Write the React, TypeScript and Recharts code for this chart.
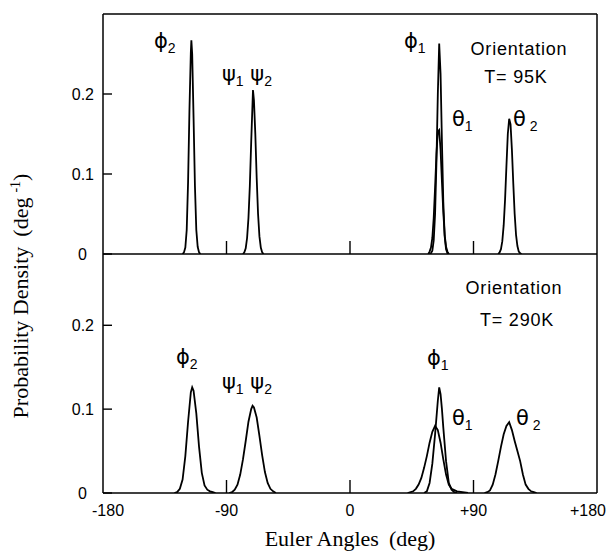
import React from 'react';
import { LineChart, Line, XAxis, YAxis, ReferenceLine } from 'recharts';

// ---- axis ticks ----
const xTicks = [-180, -90, 0, 90, 180];
const xTickText = ['-180', '-90', '0', '+90', '+180'];
const yTicks = [0, 0.1, 0.2];
const yTickText = ['0', '0.1', '0.2'];

// ---- T = 95 K ----
const t95Phi2X = [-122, -121, -120, -119, -118, -117, -116, -115.6, -115, -114, -113, -112, -111, -110, -109];
const t95Phi2Y = [0, 0.002, 0.008, 0.03, 0.09, 0.18, 0.252, 0.267, 0.25, 0.17, 0.085, 0.03, 0.009, 0.002, 0];

const t95PsiX = [-78, -77, -76, -75, -74, -73, -72, -71, -70.7, -70, -69, -68, -67, -66, -65, -64, -63];
const t95PsiY = [0, 0.002, 0.007, 0.02, 0.045, 0.085, 0.14, 0.19, 0.205, 0.192, 0.15, 0.095, 0.05, 0.022, 0.008, 0.002, 0];

const t95Phi1X = [58, 59, 60, 61, 62, 63, 64, 65, 66, 67, 68, 69, 70, 71, 72];
const t95Phi1Y = [0, 0.001, 0.004, 0.017, 0.05, 0.115, 0.2, 0.263, 0.225, 0.14, 0.065, 0.022, 0.006, 0.001, 0];

const t95Theta1X = [57, 58, 59, 60, 61, 62, 63, 64, 65, 66, 67, 68, 69, 70, 71, 72];
const t95Theta1Y = [0, 0.003, 0.008, 0.02, 0.045, 0.083, 0.125, 0.153, 0.155, 0.13, 0.09, 0.052, 0.024, 0.009, 0.003, 0];

const t95Theta2X = [108, 109, 110, 111, 112, 113, 114, 115, 116, 117, 118, 119, 120, 121, 122, 123, 124, 125];
const t95Theta2Y = [0, 0.002, 0.006, 0.016, 0.036, 0.068, 0.11, 0.15, 0.169, 0.162, 0.13, 0.088, 0.05, 0.024, 0.01, 0.003, 0.001, 0];

// ---- T = 290 K ----
const t290Phi2X = [-128, -126, -124, -122, -120, -118, -116, -115, -114, -112, -110, -108, -106, -104, -102, -100, -98];
const t290Phi2Y = [0, 0.001, 0.005, 0.016, 0.044, 0.085, 0.12, 0.126, 0.122, 0.095, 0.055, 0.024, 0.009, 0.004, 0.002, 0.001, 0];

const t290PsiX = [-88, -86, -84, -82, -80, -78, -76, -74, -72, -71, -70, -68, -66, -64, -62, -60, -58, -56, -54];
const t290PsiY = [0, 0.001, 0.004, 0.01, 0.022, 0.04, 0.062, 0.085, 0.1, 0.104, 0.102, 0.09, 0.068, 0.045, 0.025, 0.012, 0.005, 0.002, 0];

const t290Phi1X = [54, 56, 58, 60, 62, 64, 65, 66, 67, 68, 70, 72, 74, 76, 78];
const t290Phi1Y = [0, 0.002, 0.012, 0.035, 0.07, 0.11, 0.126, 0.118, 0.1, 0.078, 0.038, 0.012, 0.004, 0.001, 0];

const t290Theta1X = [42, 46, 48, 50, 52, 54, 56, 58, 60, 62, 64, 66, 68, 70, 72, 74, 78, 82, 86];
const t290Theta1Y = [0, 0.002, 0.005, 0.01, 0.018, 0.03, 0.044, 0.06, 0.073, 0.08, 0.075, 0.06, 0.04, 0.022, 0.01, 0.005, 0.002, 0.001, 0];

const t290Theta2X = [98, 100, 102, 104, 106, 108, 110, 112, 114, 116, 118, 120, 122, 124, 126, 128, 130, 132, 134, 136];
const t290Theta2Y = [0, 0.001, 0.003, 0.01, 0.022, 0.038, 0.055, 0.07, 0.08, 0.0845, 0.075, 0.062, 0.05, 0.038, 0.022, 0.01, 0.005, 0.002, 0.001, 0];

const pts = (xs: number[], ys: number[]) => xs.map((x, i) => ({ x, y: ys[i] }));

const topSeries = [
  pts(t95Phi2X, t95Phi2Y),
  pts(t95PsiX, t95PsiY),
  pts(t95Theta1X, t95Theta1Y),
  pts(t95Phi1X, t95Phi1Y),
  pts(t95Theta2X, t95Theta2Y),
];
const bottomSeries = [
  pts(t290Phi2X, t290Phi2Y),
  pts(t290PsiX, t290PsiY),
  pts(t290Theta1X, t290Theta1Y),
  pts(t290Phi1X, t290Phi1Y),
  pts(t290Theta2X, t290Theta2Y),
];

const SANS = '"Liberation Sans", Arial, Helvetica, sans-serif';
const SERIF = '"Liberation Serif", "Times New Roman", serif';
const GREEK = '"DejaVu Sans", "Liberation Sans", sans-serif';
const AX = { stroke: '#000', strokeWidth: 1.5 };

const YTick = (props: any) => {
  const { x, y, payload } = props;
  const v = payload.value;
  const i = yTicks.indexOf(v);
  return (
    <g>
      <line x1={x} y1={y} x2={x + 9} y2={y} stroke="#000" strokeWidth={1.4} />
      <text x={v === 0 ? x - 16 : x - 9} y={y} dy="0.36em" textAnchor="end" fontSize={16} fontFamily={SANS} fill="#000">
        {yTickText[i]}
      </text>
    </g>
  );
};

const makeXTick = (showLabels: boolean) => (props: any) => {
  const { x, y, payload } = props;
  const i = xTicks.indexOf(payload.value);
  const last = xTicks.length - 1;
  const edge = i === 0 || i === last;
  const tx = i === 0 ? x - 11 : i === last ? x + 9 : x;
  const anchor = i === 0 ? 'start' : i === last ? 'end' : 'middle';
  return (
    <g>
      {!edge && <line x1={x} y1={y} x2={x} y2={y - 13} stroke="#000" strokeWidth={1.4} />}
      {showLabels && (
        <text x={tx} y={y + 23} textAnchor={anchor} fontSize={16} fontFamily={SANS} fill="#000">
          {xTickText[i]}
        </text>
      )}
    </g>
  );
};

const Sub = ({ base, sub, gap = 0 }: { base: string; sub: string; gap?: number }) => (
  <>
    <tspan>{base}</tspan>
    <tspan dx={gap} dy={5} fontSize={14} fontFamily={SANS}>{sub}</tspan>
    <tspan dy={-5}> </tspan>
  </>
);

const Greek = ({ x, y, children }: any) => (
  <text x={x} y={y} fontSize={21} fontFamily={GREEK} fill="#000">{children}</text>
);

const Note = ({ x, y, children }: any) => (
  <text x={x} y={y} fontSize={18} letterSpacing={0.8} textAnchor="middle" fontFamily={SANS} fill="#000">{children}</text>
);

export default function App() {
  return (
    <div style={{ position: 'absolute', left: 0, top: 0, width: 608, height: 552, background: '#fff' }}>
      <div style={{ position: 'absolute', left: 0, top: 0 }}>
        <LineChart width={608} height={274} margin={{ top: 14, right: 11, bottom: 0, left: 0 }}>
          <XAxis dataKey="x" type="number" domain={[-180, 180]} ticks={xTicks} interval={0} allowDataOverflow
            height={20} tickSize={0} tickMargin={0} tickLine={false} axisLine={AX} tick={makeXTick(false)} />
          <YAxis type="number" domain={[0, 0.3]} ticks={yTicks} interval={0} allowDataOverflow width={103}
            tickSize={0} tickMargin={0} tickLine={false} axisLine={AX} tick={YTick} />
          <ReferenceLine x={180} stroke="#000" strokeWidth={1.5} />
          <ReferenceLine y={0.3} stroke="#000" strokeWidth={1.5} />
          {topSeries.map((d, i) => (
            <Line key={i} data={d} dataKey="y" type="linear" dot={false} activeDot={false}
              stroke="#000" strokeWidth={1.8} isAnimationActive={false} />
          ))}
        </LineChart>
      </div>
      <div style={{ position: 'absolute', left: 0, top: 240 }}>
        <LineChart width={608} height={293} margin={{ top: 14, right: 11, bottom: 0, left: 0 }}>
          <XAxis dataKey="x" type="number" domain={[-180, 180]} ticks={xTicks} interval={0} allowDataOverflow
            height={40} tickSize={0} tickMargin={0} tickLine={false} axisLine={AX} tick={makeXTick(true)} />
          <YAxis type="number" domain={[0, 0.285]} ticks={yTicks} interval={0} allowDataOverflow width={103}
            tickSize={0} tickMargin={0} tickLine={false} axisLine={AX} tick={YTick} />
          <ReferenceLine x={180} stroke="#000" strokeWidth={1.5} />
          {bottomSeries.map((d, i) => (
            <Line key={i} data={d} dataKey="y" type="linear" dot={false} activeDot={false}
              stroke="#000" strokeWidth={1.8} isAnimationActive={false} />
          ))}
        </LineChart>
      </div>
      <svg width={608} height={552} style={{ position: 'absolute', left: 0, top: 0, pointerEvents: 'none' }}>
        {/* top panel annotations */}
        <Greek x={154} y={48}><Sub base="ϕ" sub="2" /></Greek>
        <Greek x={222} y={81}><Sub base="ψ" sub="1" /><tspan>ψ</tspan><tspan dy={5} fontSize={14} fontFamily={SANS}>2</tspan></Greek>
        <Greek x={404} y={48}><Sub base="ϕ" sub="1" /></Greek>
        <Greek x={452} y={126}><Sub base="θ" sub="1" /></Greek>
        <Greek x={513} y={126}><Sub base="θ" sub="2" gap={4} /></Greek>
        <Note x={519} y={55}>Orientation</Note>
        <Note x={516} y={83}>T= 95K</Note>
        {/* bottom panel annotations */}
        <Greek x={176} y={364}><Sub base="ϕ" sub="2" /></Greek>
        <Greek x={222} y={389}><Sub base="ψ" sub="1" /><tspan>ψ</tspan><tspan dy={5} fontSize={14} fontFamily={SANS}>2</tspan></Greek>
        <Greek x={427} y={365}><Sub base="ϕ" sub="1" /></Greek>
        <Greek x={452} y={425}><Sub base="θ" sub="1" /></Greek>
        <Greek x={516} y={425}><Sub base="θ" sub="2" gap={4} /></Greek>
        <Note x={514} y={294}>Orientation</Note>
        <Note x={517} y={326}>T= 290K</Note>
        {/* axis titles */}
        <text transform="translate(28,296) rotate(-90)" textAnchor="middle" fontSize={22} fontFamily={SERIF} fill="#000">
          <tspan>Probability Density</tspan><tspan dx={10}>(deg</tspan><tspan dx={5} dy={-8} fontSize={14}>-1</tspan><tspan dy={8}>)</tspan>
        </text>
        <text x={350} y={546} textAnchor="middle" fontSize={22} fontFamily={SERIF} fill="#000">
          <tspan>Euler Angles</tspan><tspan dx={10}>(deg)</tspan>
        </text>
      </svg>
    </div>
  );
}
